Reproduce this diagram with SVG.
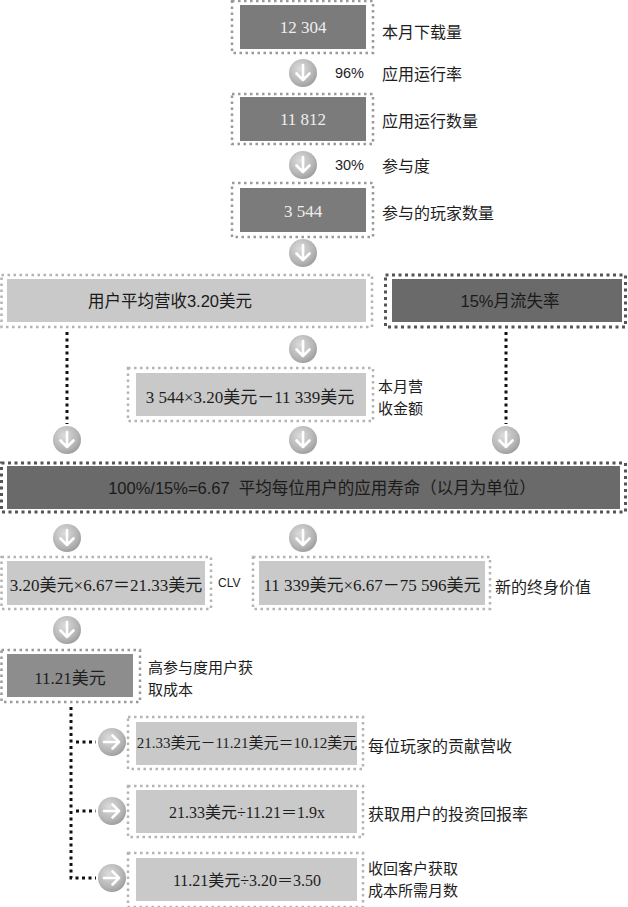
<svg xmlns="http://www.w3.org/2000/svg" width="628" height="907" viewBox="0 0 628 907">
<style>
.frame{fill:none;stroke:#b4b4b4;stroke-width:2.5;stroke-dasharray:2.5 3.5}
.frameM{fill:none;stroke:#9a9a9a;stroke-width:2.5;stroke-dasharray:2.5 3.5}
.frameD{fill:none;stroke:#555;stroke-width:3;stroke-dasharray:3 3.5}
.dark{fill:#7b7b7b}
.light{fill:#c9c9c9}
.darker{fill:#6a6a6a}
.mid{fill:#8d8d8d}
.num{font-family:"Liberation Serif","Noto Sans CJK SC",serif;font-size:17px;fill:#eeeeee;text-anchor:middle;dominant-baseline:central}
.ser{font-family:"Liberation Serif","Noto Sans CJK SC",serif;font-size:17px;fill:#1e1e1e;text-anchor:middle;dominant-baseline:central}
.lab{font-family:"Noto Sans CJK SC","Liberation Sans",sans-serif;font-size:16px;fill:#1e1e1e;dominant-baseline:central}
.lab2{font-family:"Noto Sans CJK SC","Liberation Sans",sans-serif;font-size:15px;fill:#1e1e1e;dominant-baseline:central}
.pct{font-family:"Liberation Sans","Noto Sans CJK SC",sans-serif;font-size:14.5px;fill:#1e1e1e;text-anchor:end;dominant-baseline:central}
.bold{font-family:"Liberation Sans","Noto Sans CJK SC",sans-serif;font-size:16.5px;fill:#1a1a1a;text-anchor:middle;dominant-baseline:central}
.conn{fill:none;stroke:#111;stroke-width:3;stroke-dasharray:3 3.5}
.ar{fill:none;stroke:#fff;stroke-width:2.6;stroke-linecap:round;stroke-linejoin:round}
</style>
<defs>
<radialGradient id="g" cx="0.4" cy="0.35" r="0.7">
<stop offset="0" stop-color="#dcdcdc"/>
<stop offset="0.7" stop-color="#b4b4b4"/>
<stop offset="1" stop-color="#9a9a9a"/>
</radialGradient>
<g id="down"><circle r="14" fill="url(#g)"/><path class="ar" d="M0 -8 V7 M-6.5 0.5 L0 7 L6.5 0.5"/></g>
<g id="right"><circle r="14" fill="url(#g)"/><path class="ar" d="M-8 0 H7 M0.5 -6.5 L7 0 L0.5 6.5"/></g>
</defs>

<g id="connectors">
<path class="conn" d="M67 332 V424"/>
<path class="conn" d="M506 332 V424"/>
<path class="conn" d="M71 707 V878 H96 M76 742 H96 M76 811 H96"/>
<use href="#down" x="303" y="73"/>
<use href="#down" x="303" y="165"/>
<use href="#down" x="303" y="253"/>
<use href="#down" x="303" y="349"/>
<use href="#down" x="67" y="440"/>
<use href="#down" x="303" y="440"/>
<use href="#down" x="506" y="440"/>
<use href="#down" x="67" y="538"/>
<use href="#down" x="303" y="538"/>
<use href="#down" x="67" y="630"/>
<use href="#right" x="112" y="742"/>
<use href="#right" x="112" y="811"/>
<use href="#right" x="112" y="878"/>
<text class="pct" x="364" y="73">96%</text>
<text class="lab" x="382" y="73">应用运行率</text>
<text class="pct" x="364" y="165">30%</text>
<text class="lab" x="382" y="165">参与度</text>
</g>

<g id="n-downloads">
<rect class="frameM" x="232" y="1" width="141" height="52"/>
<rect class="dark" x="240" y="5" width="126" height="44"/>
<text class="num" x="303" y="27">12 304</text>
<text class="lab" x="382" y="31">本月下载量</text>
</g>

<g id="n-running">
<rect class="frameM" x="232" y="94" width="141" height="50"/>
<rect class="dark" x="240" y="97" width="126" height="44"/>
<text class="num" x="303" y="119">11 812</text>
<text class="lab" x="382" y="120">应用运行数量</text>
</g>

<g id="n-players">
<rect class="frameM" x="232" y="183" width="141" height="54"/>
<rect class="dark" x="240" y="188" width="126" height="44"/>
<text class="num" x="303" y="211">3 544</text>
<text class="lab" x="382" y="212">参与的玩家数量</text>
</g>

<g id="n-arpu">
<rect class="frame" x="1.5" y="275" width="370.5" height="52"/>
<rect class="light" x="7" y="279" width="359" height="43"/>
<text class="bold" x="170" y="301">用户平均营收3.20美元</text>
</g>

<g id="n-churn">
<rect class="frameD" x="385.5" y="275" width="240" height="52"/>
<rect class="darker" x="392" y="279" width="230" height="43"/>
<text class="bold" x="510" y="301">15%月流失率</text>
</g>

<g id="n-revenue">
<rect class="frame" x="128" y="368" width="245" height="53"/>
<rect class="light" x="136" y="373" width="230" height="43"/>
<text class="ser" x="250" y="397">3 544×3.20美元－11 339美元</text>
<text class="lab2" x="378" y="385">本月营</text>
<text class="lab2" x="378" y="407">收金额</text>
</g>

<g id="n-lifetime">
<rect class="frameD" x="1.5" y="463" width="624" height="49"/>
<rect class="darker" x="7" y="466" width="613" height="43"/>
<text class="bold" x="322" y="488" xml:space="preserve">100%/15%=6.67  平均每位用户的应用寿命（以月为单位）</text>
</g>

<g id="n-clv">
<rect class="frame" x="1.5" y="557" width="209.5" height="52"/>
<rect class="light" x="7" y="561" width="198" height="44"/>
<text class="ser" x="106" y="585">3.20美元×6.67＝21.33美元</text>
<text x="218" y="583" style="font-family:'Liberation Sans',sans-serif;font-size:12px;fill:#1e1e1e;dominant-baseline:central">CLV</text>
</g>

<g id="n-newclv">
<rect class="frame" x="253" y="557" width="237" height="52"/>
<rect class="light" x="259" y="561" width="226" height="44"/>
<text class="ser" x="372" y="585">11 339美元×6.67－75 596美元</text>
<text class="lab" x="495" y="586">新的终身价值</text>
</g>

<g id="n-cac">
<rect class="frameM" x="1.5" y="650" width="138.5" height="52"/>
<rect class="mid" x="7" y="654" width="126" height="43"/>
<text class="ser" x="70" y="678">11.21美元</text>
<text class="lab2" x="148" y="666">高参与度用户获</text>
<text class="lab2" x="148" y="688">取成本</text>
</g>

<g id="n-contrib">
<rect class="frame" x="128" y="717" width="235" height="52"/>
<rect class="light" x="136" y="722" width="221" height="43"/>
<text class="ser" x="247" y="743" style="font-size:15px">21.33美元－11.21美元＝10.12美元</text>
<text class="lab" x="368" y="745">每位玩家的贡献营收</text>
</g>

<g id="n-roi">
<rect class="frame" x="128" y="786" width="235" height="51"/>
<rect class="light" x="136" y="790" width="221" height="43"/>
<text class="ser" x="247" y="812" style="font-size:16px">21.33美元÷11.21＝1.9x</text>
<text class="lab" x="368" y="813">获取用户的投资回报率</text>
</g>

<g id="n-payback">
<rect class="frame" x="128" y="853" width="235" height="54"/>
<rect class="light" x="136" y="858" width="221" height="43"/>
<text class="ser" x="247" y="880" style="font-size:16px">11.21美元÷3.20＝3.50</text>
<text class="lab2" x="368" y="867">收回客户获取</text>
<text class="lab2" x="368" y="889">成本所需月数</text>
</g>
</svg>
